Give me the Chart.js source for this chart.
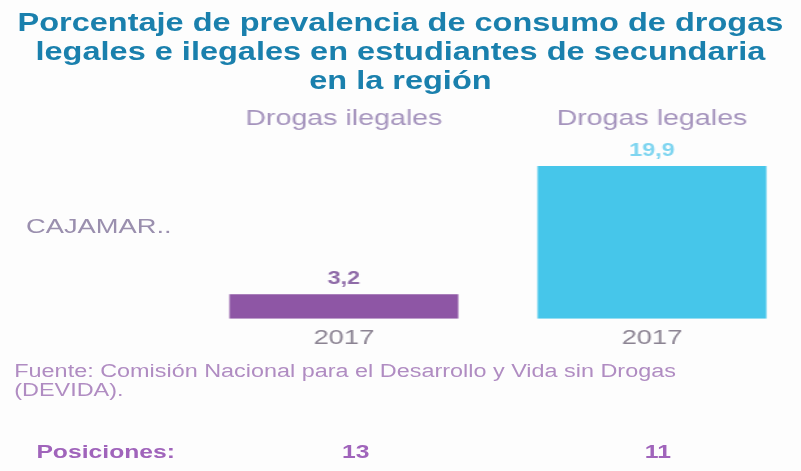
<!DOCTYPE html>
<html>
<head>
<meta charset="utf-8">
<script src="https://cdn.jsdelivr.net/npm/chart.js@4"></script>
<style>
  body { margin: 0; width: 801px; height: 471px; overflow: hidden; background: #fdfdfd; font-family: "Liberation Sans", Arial, sans-serif; }
  /* the source picture is stretched sideways, so everything sits in a wrapper scaled on x */
  #page { position: absolute; left: 0; top: 0; width: 616px; height: 471px; transform: scaleX(1.3); transform-origin: 0 0; }
  #title { position: absolute; left: 0; top: 8px; width: 616px; text-align: center; color: #1a80ad; font-weight: bold; font-size: 25px; line-height: 29px; }
  #row { position: absolute; left: 20px; top: 214px; color: #9a8fae; font-size: 21px; }
  #wrap { position: absolute; left: 146px; top: 100px; width: 474px; height: 258px; }
  #source { position: absolute; left: 11px; top: 362px; color: #b08cc2; font-size: 18px; line-height: 19px; }
  .pos { position: absolute; top: 441px; color: #a064bb; font-weight: bold; font-size: 19px; }
</style>
</head>
<body>
<div id="page">
  <div id="title">Porcentaje de prevalencia de consumo de drogas<br>legales e ilegales en estudiantes de secundaria<br>en la región</div>
  <div id="row">CAJAMAR..</div>
  <div id="wrap"><canvas id="chart"></canvas></div>
  <div id="source">Fuente: Comisión Nacional para el Desarrollo y Vida sin Drogas<br>(DEVIDA).</div>
  <div class="pos" style="left:28px">Posiciones:</div>
  <div class="pos" id="pos0" style="left:263px"></div>
  <div class="pos" id="pos1" style="left:496px"></div>
</div>
<script>
const categories = ['Drogas ilegales', 'Drogas legales'];
const years = ['2017', '2017'];
const values = [3.2, 19.9];
const positions = [13, 11];
const barColors = ['#8e56a5', '#46c6ea'];
const labelColors = ['#8f6ba8', '#7fd5f0'];

document.getElementById('pos0').textContent = positions[0];
document.getElementById('pos1').textContent = positions[1];

const font = '"Liberation Sans", Arial, sans-serif';

// value over each bar, with a decimal comma
const valueLabels = {
    id: 'valueLabels',
    afterDatasetsDraw(chart) {
        const ctx = chart.ctx;
        const meta = chart.getDatasetMeta(0);
        ctx.save();
        ctx.font = 'bold 18px ' + font;
        ctx.textAlign = 'center';
        ctx.textBaseline = 'alphabetic';
        meta.data.forEach((bar, i) => {
            ctx.fillStyle = labelColors[i];
            ctx.fillText(values[i].toFixed(1).replace('.', ','), bar.x, bar.y - 10);
        });
        ctx.restore();
    }
};

const ctx = document.getElementById('chart').getContext('2d');
const chart = new Chart(ctx, {
    type: 'bar',
    data: {
        labels: years,
        datasets: [{
            data: values,
            backgroundColor: barColors,
            barPercentage: 0.743,
            categoryPercentage: 1
        }]
    },
    options: {
        responsive: true,
        maintainAspectRatio: false,
        animation: false,
        layout: { padding: { top: 4, bottom: 0, left: 0, right: 0 } },
        plugins: {
            legend: { display: false },
            tooltip: { enabled: false }
        },
        scales: {
            x: {
                grid: { display: false, drawTicks: false },
                border: { display: false },
                ticks: { color: '#8b8392', padding: 7, font: { size: 21, family: font } }
            },
            x2: {
                type: 'category',
                position: 'top',
                labels: categories,
                grid: { display: false, drawTicks: false },
                border: { display: false },
                ticks: { color: '#a594bd', padding: 2, font: { size: 22, family: font } }
            },
            y: {
                display: false,
                min: 0,
                max: 24
            }
        }
    },
    plugins: [valueLabels]
});
</script>
</body>
</html>
